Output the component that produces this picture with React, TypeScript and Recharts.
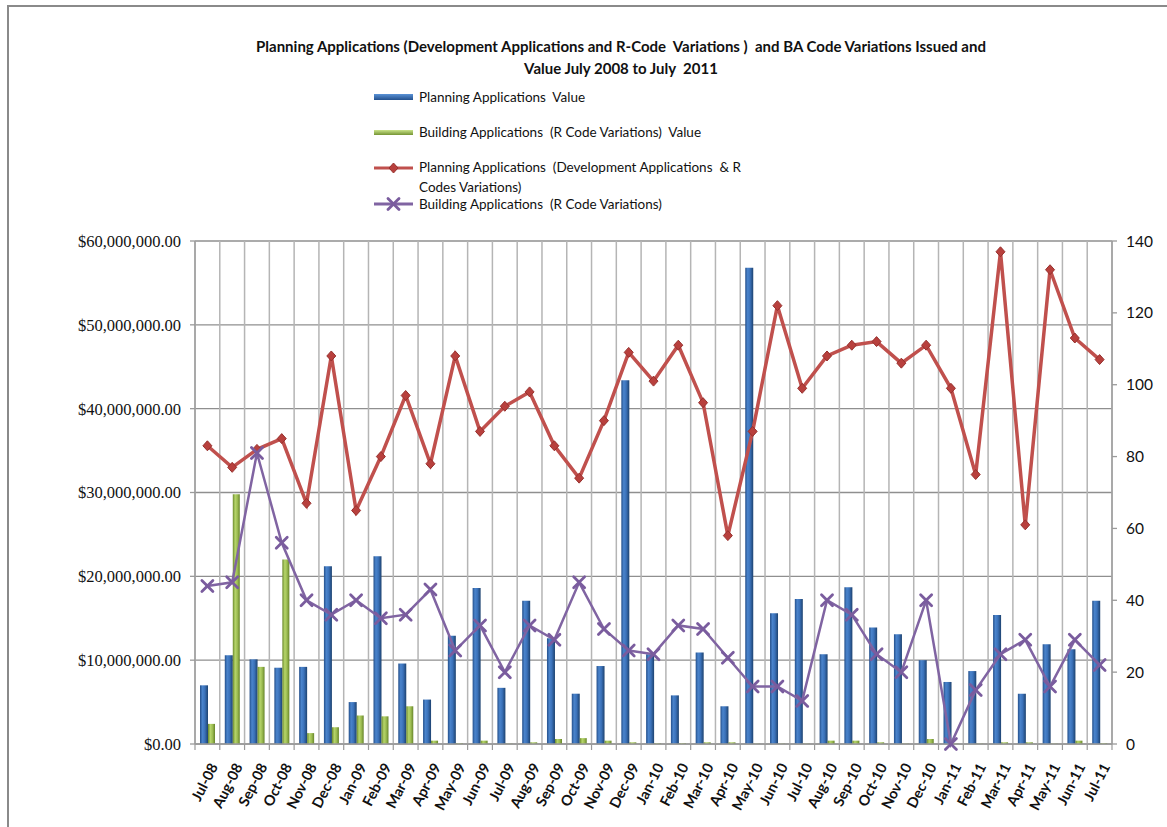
import React from 'react';
import { ComposedChart, Bar, Line, XAxis, YAxis, CartesianGrid, Legend } from 'recharts';

const months = [
  'Jul-08', 'Aug-08', 'Sep-08', 'Oct-08', 'Nov-08', 'Dec-08', 'Jan-09', 'Feb-09', 'Mar-09', 'Apr-09',
  'May-09', 'Jun-09', 'Jul-09', 'Aug-09', 'Sep-09', 'Oct-09', 'Nov-09', 'Dec-09', 'Jan-10', 'Feb-10',
  'Mar-10', 'Apr-10', 'May-10', 'Jun-10', 'Jul-10', 'Aug-10', 'Sep-10', 'Oct-10', 'Nov-10', 'Dec-10',
  'Jan-11', 'Feb-11', 'Mar-11', 'Apr-11', 'May-11', 'Jun-11', 'Jul-11',
];

// values in millions of dollars
const planningValueM = [
  7.0, 10.6, 10.1, 9.1, 9.2, 21.2, 5.0, 22.4, 9.6, 5.3,
  12.9, 18.6, 6.7, 17.1, 12.6, 6.0, 9.3, 43.4, 10.7, 5.8,
  10.9, 4.5, 56.8, 15.6, 17.3, 10.7, 18.7, 13.9, 13.1, 10.0,
  7.4, 8.7, 15.4, 6.0, 11.9, 11.3, 17.1,
];

const buildingValueM = [
  2.4, 29.8, 9.2, 22.0, 1.3, 2.0, 3.4, 3.3, 4.5, 0.4,
  0.1, 0.4, 0.05, 0.2, 0.6, 0.7, 0.4, 0.2, 0.1, 0.1,
  0.2, 0.2, 0.05, 0.05, 0.05, 0.4, 0.4, 0.2, 0.05, 0.6,
  0.05, 0.05, 0.2, 0.2, 0.05, 0.4, 0.1,
];

const planningCount = [
  83, 77, 82, 85, 67, 108, 65, 80, 97, 78,
  108, 87, 94, 98, 83, 74, 90, 109, 101, 111,
  95, 58, 87, 122, 99, 108, 111, 112, 106, 111,
  99, 75, 137, 61, 132, 113, 107,
];

const buildingCount = [
  44, 45, 81, 56, 40, 36, 40, 35, 36, 43,
  26, 33, 20, 33, 29, 45, 32, 26, 25, 33,
  32, 24, 16, 16, 12, 40, 36, 25, 20, 40,
  0, 15, 25, 29, 16, 29, 22,
];

const leftTicks = [0, 10000000, 20000000, 30000000, 40000000, 50000000, 60000000];
const rightTicks = [0, 20, 40, 60, 80, 100, 120, 140];

const titleLines = [
  'Planning Applications (Development Applications and R-Code  Variations )  and BA Code Variations Issued and',
  'Value July 2008 to July  2011',
];

const legendLabels = [
  'Planning Applications  Value',
  'Building Applications  (R Code Variations)  Value',
  'Planning Applications  (Development Applications  & R',
  'Codes Variations)',
  'Building Applications  (R Code Variations)',
];

const data = months.map((m, i) => ({
  month: m,
  pv: planningValueM[i] * 1000000,
  bv: buildingValueM[i] * 1000000,
  pc: planningCount[i],
  bc: buildingCount[i],
}));

const W = 1167;
const H = 827;
const PLOT_LEFT = 195;
const PLOT_RIGHT = 1112;
const PLOT_TOP = 241;
const PLOT_BOTTOM = 744;
const BAND = (PLOT_RIGHT - PLOT_LEFT) / months.length;

const SANS = 'Lato, "Open Sans", sans-serif';

const fmtMoney = (v: number) =>
  '$' + v.toLocaleString('en-US', { minimumFractionDigits: 2, maximumFractionDigits: 2 });

const Diamond = (props: any) => {
  const { cx, cy } = props;
  if (cx == null || cy == null) return null;
  return (
    <path
      d={`M${cx},${cy - 5} L${cx + 4.5},${cy} L${cx},${cy + 5} L${cx - 4.5},${cy} Z`}
      fill="#b8403d"
      stroke="#97302d"
      strokeWidth={1}
    />
  );
};

const XMark = (props: any) => {
  const { cx, cy } = props;
  if (cx == null || cy == null) return null;
  const r = 5.5;
  return (
    <g stroke="#7a5c9e" strokeWidth={2.8} strokeLinecap="round">
      <line x1={cx - r} y1={cy - r} x2={cx + r} y2={cy + r} />
      <line x1={cx - r} y1={cy + r} x2={cx + r} y2={cy - r} />
    </g>
  );
};

const XTick = (props: any) => {
  const { x, y, payload, index } = props;
  const lx = x - BAND / 2;
  return (
    <g>
      <line x1={lx} x2={lx} y1={y} y2={y + 6} stroke="#9a9a9a" strokeWidth={1.2} />
      {index === months.length - 1 ? (
        <line x1={x + BAND / 2} x2={x + BAND / 2} y1={y} y2={y + 6} stroke="#9a9a9a" strokeWidth={1.2} />
      ) : null}
      <text
        transform={`translate(${x + 6},${y + 20}) rotate(-63)`}
        textAnchor="end"
        dominantBaseline="central"
        fontFamily={SANS}
        fontWeight={700}
        fontSize={14.5}
        fill="#111"
      >
        {payload.value}
      </text>
    </g>
  );
};

const renderLegend = () => (
  <div style={{ position: 'relative', width: 420, height: 130, fontFamily: SANS, fontSize: 13.5, color: '#111' }}>
    <svg width={44} height={130} style={{ position: 'absolute', left: 0, top: 0 }}>
      <defs>
        <linearGradient id="lgBlue" x1="0" y1="0" x2="0" y2="1">
          <stop offset="0" stopColor="#5a92d6" />
          <stop offset="1" stopColor="#23508d" />
        </linearGradient>
        <linearGradient id="lgGreen" x1="0" y1="0" x2="0" y2="1">
          <stop offset="0" stopColor="#c9e389" />
          <stop offset="1" stopColor="#759434" />
        </linearGradient>
      </defs>
      <rect x={0} y={7} width={39} height={6} fill="url(#lgBlue)" />
      <rect x={0} y={43} width={39} height={5} fill="url(#lgGreen)" />
      <line x1={0} x2={39} y1={81} y2={81} stroke="#c0504d" strokeWidth={3} />
      <Diamond cx={19.5} cy={81} />
      <line x1={0} x2={39} y1={117} y2={117} stroke="#8064a2" strokeWidth={3} />
      <XMark cx={19.5} cy={117} />
    </svg>
    <div style={{ position: 'absolute', left: 45, top: 0, whiteSpace: 'pre', lineHeight: '20px' }}>{legendLabels[0]}</div>
    <div style={{ position: 'absolute', left: 45, top: 35, whiteSpace: 'pre', lineHeight: '20px' }}>{legendLabels[1]}</div>
    <div style={{ position: 'absolute', left: 45, top: 70, whiteSpace: 'pre', lineHeight: '20px' }}>{legendLabels[2]}</div>
    <div style={{ position: 'absolute', left: 45, top: 90, whiteSpace: 'pre', lineHeight: '20px' }}>{legendLabels[3]}</div>
    <div style={{ position: 'absolute', left: 45, top: 107, whiteSpace: 'pre', lineHeight: '20px' }}>{legendLabels[4]}</div>
  </div>
);

const verticalGen = (props: any) => {
  const off = props && props.offset ? props.offset : { left: PLOT_LEFT, width: PLOT_RIGHT - PLOT_LEFT };
  const n = months.length;
  const out: number[] = [];
  for (let i = 0; i <= n; i++) out.push(off.left + (i * off.width) / n);
  return out;
};

export default function App() {
  return (
    <div style={{ position: 'absolute', left: 0, top: 0, width: W, height: H, background: '#fff', overflow: 'hidden' }}>
      <div style={{ position: 'absolute', left: 7, top: 5, width: 2, height: H, background: '#8a8a8a' }} />
      <div style={{ position: 'absolute', left: 7, top: 5, width: W, height: 2, background: '#8a8a8a' }} />
      <div
        style={{
          position: 'absolute',
          left: 171,
          top: 35,
          width: 900,
          textAlign: 'center',
          fontFamily: SANS,
          fontWeight: 700,
          fontSize: 15,
          lineHeight: '22px',
          color: '#111',
          whiteSpace: 'pre',
        }}
      >
        {titleLines[0]}
        {'\n'}
        {titleLines[1]}
      </div>
      <div style={{ position: 'absolute', left: 0, top: 0 }}>
        <ComposedChart
          width={W}
          height={H}
          data={data}
          margin={{ top: PLOT_TOP, right: 0, bottom: 0, left: 0 }}
          barGap={0}
          barCategoryGap="20%"
        >
          <defs>
            <linearGradient id="gBlue" x1="0" y1="0" x2="1" y2="0">
              <stop offset="0" stopColor="#244f8a" />
              <stop offset="0.3" stopColor="#4a84cc" />
              <stop offset="0.6" stopColor="#3b72ba" />
              <stop offset="1" stopColor="#1d426f" />
            </linearGradient>
            <linearGradient id="gGreen" x1="0" y1="0" x2="1" y2="0">
              <stop offset="0" stopColor="#6b8a2c" />
              <stop offset="0.35" stopColor="#b6d56b" />
              <stop offset="0.65" stopColor="#9dbd52" />
              <stop offset="1" stopColor="#66842a" />
            </linearGradient>
          </defs>
          <CartesianGrid yAxisId="left" vertical={false} stroke="#8f8f8f" strokeWidth={1.3} />
          <CartesianGrid
            yAxisId="left"
            horizontal={false}
            stroke="#b5b5b5"
            strokeWidth={1.5}
            verticalCoordinatesGenerator={verticalGen}
          />
          <XAxis
            dataKey="month"
            interval={0}
            height={H - PLOT_BOTTOM}
            tickLine={false}
            tickSize={0}
            tickMargin={0}
            axisLine={{ stroke: '#9a9a9a', strokeWidth: 1.3 }}
            tick={<XTick />}
          />
          <YAxis
            yAxisId="left"
            orientation="left"
            width={PLOT_LEFT}
            domain={[0, 60000000]}
            ticks={leftTicks}
            tickFormatter={fmtMoney}
            tickSize={5}
            tickMargin={9}
            axisLine={{ stroke: '#9a9a9a', strokeWidth: 1.3 }}
            tickLine={{ stroke: '#9a9a9a', strokeWidth: 1.3 }}
            tick={{ fontFamily: '"Liberation Serif", serif', fontSize: 16.5, fill: '#111' }}
          />
          <YAxis
            yAxisId="right"
            orientation="right"
            width={W - PLOT_RIGHT}
            domain={[0, 140]}
            ticks={rightTicks}
            tickSize={5}
            tickMargin={9}
            axisLine={{ stroke: '#9a9a9a', strokeWidth: 1.3 }}
            tickLine={{ stroke: '#9a9a9a', strokeWidth: 1.3 }}
            tick={{ fontFamily: SANS, fontSize: 15.5, fill: '#111' }}
          />
          <Legend
            layout="vertical"
            align="center"
            verticalAlign="middle"
            content={renderLegend}
            wrapperStyle={{ position: 'absolute', left: 374, top: 87, width: 420, height: 130 }}
          />
          <Bar yAxisId="left" dataKey="pv" name="Planning Applications  Value" fill="url(#gBlue)" barSize={8} isAnimationActive={false} />
          <Bar yAxisId="left" dataKey="bv" name="Building Applications  (R Code Variations)  Value" fill="url(#gGreen)" barSize={7} isAnimationActive={false} />
          <Line
            yAxisId="right"
            dataKey="pc"
            name="Planning Applications  (Development Applications  & R Codes Variations)"
            stroke="#c0504d"
            strokeWidth={3.5}
            dot={<Diamond />}
            activeDot={false}
            isAnimationActive={false}
          />
          <Line
            yAxisId="right"
            dataKey="bc"
            name="Building Applications  (R Code Variations)"
            stroke="#8064a2"
            strokeWidth={2.5}
            dot={<XMark />}
            activeDot={false}
            isAnimationActive={false}
          />
        </ComposedChart>
      </div>
    </div>
  );
}
